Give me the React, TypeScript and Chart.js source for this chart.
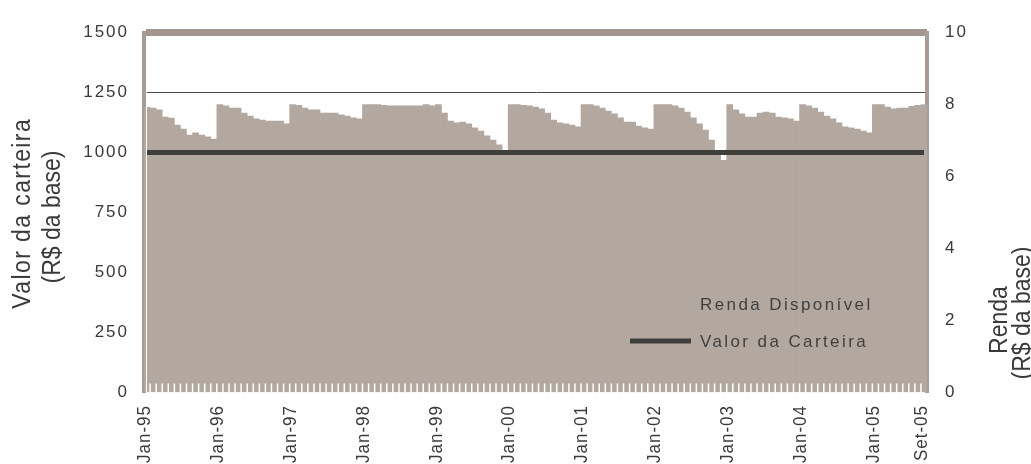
import React, { useEffect, useRef } from 'react';
import { Chart, registerables } from 'chart.js';

Chart.register(...registerables);

// ---------- data ----------
const YEARS = ['95', '96', '97', '98', '99', '00', '01', '02', '03', '04', '05'];
const MONTHS = ['Jan', 'Fev', 'Mar', 'Abr', 'Mai', 'Jun', 'Jul', 'Ago', 'Set', 'Out', 'Nov', 'Dez'];
const LAST_YEAR_MONTHS = 9; // Jan-05 .. Set-05

const CATEGORIES: string[] = [];
YEARS.forEach((y, yi) => {
  const n = yi === YEARS.length - 1 ? LAST_YEAR_MONTHS : 12;
  for (let m = 0; m < n; m++) CATEGORIES.push(`${MONTHS[m]}-${y}`);
});

// Renda disponível (R$ da base) – right axis
const RENDA_DISPONIVEL = [
  7.92, 7.90, 7.85, 7.65, 7.62, 7.43, 7.32, 7.15, 7.21, 7.15, 7.10, 7.04,
  8.00, 7.96, 7.90, 7.90, 7.76, 7.68, 7.60, 7.57, 7.54, 7.54, 7.54, 7.46,
  8.00, 7.98, 7.90, 7.85, 7.85, 7.76, 7.76, 7.76, 7.71, 7.68, 7.63, 7.60,
  8.00, 8.00, 8.00, 7.98, 7.96, 7.96, 7.96, 7.96, 7.96, 7.96, 8.00, 7.96,
  8.00, 7.76, 7.54, 7.49, 7.51, 7.46, 7.35, 7.26, 7.13, 7.01, 6.88, 6.70,
  8.00, 8.00, 7.98, 7.96, 7.93, 7.88, 7.76, 7.57, 7.49, 7.46, 7.43, 7.38,
  8.00, 8.00, 7.96, 7.90, 7.82, 7.74, 7.63, 7.51, 7.51, 7.40, 7.35, 7.32,
  8.00, 8.00, 8.00, 7.96, 7.90, 7.79, 7.63, 7.46, 7.29, 7.01, 6.70, 6.45,
  8.00, 7.85, 7.74, 7.65, 7.65, 7.76, 7.79, 7.76, 7.65, 7.63, 7.60, 7.54,
  8.00, 7.96, 7.90, 7.79, 7.68, 7.60, 7.49, 7.38, 7.35, 7.32, 7.26, 7.21,
  8.00, 8.00, 7.93, 7.88, 7.90, 7.90, 7.95, 7.98, 8.00,
];

// Valor da carteira (R$ da base) – left axis
const VALOR_CARTEIRA = [
  1000, 1000, 1000, 1000, 1000, 1000, 1000, 1000, 1000, 1000, 1000, 1000,
  1000, 1000, 1000, 1000, 1000, 1000, 1000, 1000, 1000, 1000, 1000, 1000,
  1000, 1000, 1000, 1000, 1000, 1000, 1000, 1000, 1000, 1000, 1000, 1000,
  1000, 1000, 1000, 1000, 1000, 1000, 1000, 1000, 1000, 1000, 1000, 1000,
  1000, 1000, 1000, 1000, 1000, 1000, 1000, 1000, 1000, 1000, 1000, 1000,
  1000, 1000, 1000, 1000, 1000, 1000, 1000, 1000, 1000, 1000, 1000, 1000,
  1000, 1000, 1000, 1000, 1000, 1000, 1000, 1000, 1000, 1000, 1000, 1000,
  1000, 1000, 1000, 1000, 1000, 1000, 1000, 1000, 1000, 1000, 1000, 1000,
  1000, 1000, 1000, 1000, 1000, 1000, 1000, 1000, 1000, 1000, 1000, 1000,
  1000, 1000, 1000, 1000, 1000, 1000, 1000, 1000, 1000, 1000, 1000, 1000,
  1000, 1000, 1000, 1000, 1000, 1000, 1000, 1000, 1000,
];

const LEFT_TICKS = [0, 250, 500, 750, 1000, 1250, 1500];
const RIGHT_TICKS = [0, 2, 4, 6, 8, 10];
const LEFT_TITLE = ['Valor da carteira', '(R$ da base)'];
const RIGHT_TITLE = ['Renda', '(R$ da base)'];
const SERIES_LABELS = ['Renda Disponível', 'Valor da Carteira'];

// ---------- styles ----------
const FONT = '"Liberation Sans", Arial, sans-serif';
const BAR_COLOR = '#b3a8a0';
const LINE_COLOR = '#3e3f3a';
const AXIS_COLOR = '#a79d96';
const BAND_COLOR = '#a3968e';
const TEXT_COLOR = '#3a3a3a';

const W = 1031;
const H = 464;

const showXLabel = (i: number) => CATEGORIES[i].startsWith('Jan') || i === CATEGORIES.length - 1;

export default function App() {
  const ref = useRef<HTMLCanvasElement | null>(null);

  useEffect(() => {
    document.body.style.margin = '0';
    const canvas = ref.current;
    if (!canvas) return;

    const spacingPlugin = {
      id: 'spacing',
      beforeDraw(chart: any) {
        chart.ctx.letterSpacing = '2px';
      },
    };

    const decorPlugin = {
      id: 'decor',
      afterDatasetsDraw(chart: any) {
        const ctx = chart.ctx;
        const xs = chart.scales.x;
        const y0 = chart.scales.y1.getPixelForValue(0);
        const n = CATEGORIES.length;
        ctx.save();
        ctx.strokeStyle = '#ffffff';
        ctx.lineWidth = 1.5;
        for (let i = 1; i < n; i++) {
          const x = (xs.getPixelForValue(i - 1) + xs.getPixelForValue(i)) / 2;
          ctx.beginPath();
          ctx.moveTo(x, y0 - 9);
          ctx.lineTo(x, y0 + 1);
          ctx.stroke();
        }
        // thin white separation between left axis and bars
        ctx.lineWidth = 1;
        ctx.beginPath();
        ctx.moveTo(xs.left + 2.5, chart.chartArea.top + 4);
        ctx.lineTo(xs.left + 2.5, y0);
        ctx.stroke();
        ctx.restore();
      },
      afterDraw(chart: any) {
        const ctx = chart.ctx;
        const xs = chart.scales.x;
        ctx.save();
        ctx.fillStyle = TEXT_COLOR;
        const vText = (t: string, x: number, y: number, spacing: number, align: CanvasTextAlign) => {
          ctx.save();
          ctx.letterSpacing = `${spacing}px`;
          ctx.translate(x, y);
          ctx.scale(1.12, 1);
          ctx.rotate(-Math.PI / 2);
          ctx.textAlign = align;
          ctx.textBaseline = 'middle';
          ctx.fillText(t, align === 'center' ? spacing / 2 : 0, 0);
          ctx.restore();
        };

        // x tick labels (at the start of each labelled month)
        ctx.font = `17px ${FONT}`;
        const step = (xs.right - xs.left) / CATEGORIES.length;
        CATEGORIES.forEach((label, i) => {
          if (!showXLabel(i)) return;
          const x = xs.getPixelForValue(i) - step / 2 + 1;
          vText(label, x, 405, 1, 'right');
        });

        ctx.font = `23px ${FONT}`;
        vText(LEFT_TITLE[0], 23, 214, 1.4, 'center');
        vText(LEFT_TITLE[1], 53, 217, 0, 'center');
        vText(RIGHT_TITLE[0], 1000, 320, 0, 'center');
        vText(RIGHT_TITLE[1], 1023, 313, 0, 'center');

        // legend
        const ds = chart.data.datasets;
        ctx.letterSpacing = '2.4px';
        ctx.font = `17px ${FONT}`;
        ctx.textAlign = 'left';
        ctx.textBaseline = 'middle';
        ctx.fillStyle = '#404040';
        ctx.fillText(ds[0].label, 700, 305);
        ctx.fillText(ds[1].label, 700, 342);
        ctx.strokeStyle = LINE_COLOR;
        ctx.lineWidth = 5;
        ctx.beginPath();
        ctx.moveTo(630, 341);
        ctx.lineTo(691, 341);
        ctx.stroke();
        ctx.restore();
      },
    };

    const chart = new Chart(canvas, {
      data: {
        labels: CATEGORIES,
        datasets: [
          {
            type: 'bar',
            label: SERIES_LABELS[0],
            data: RENDA_DISPONIVEL,
            yAxisID: 'y1',
            backgroundColor: BAR_COLOR,
            borderWidth: 0,
            barPercentage: 1,
            categoryPercentage: 1,
            order: 2,
          } as any,
          {
            type: 'line',
            label: SERIES_LABELS[1],
            data: VALOR_CARTEIRA,
            yAxisID: 'y',
            borderColor: LINE_COLOR,
            borderWidth: 5,
            pointRadius: 0,
            fill: false,
            order: 1,
          } as any,
        ],
      },
      options: {
        responsive: false,
        devicePixelRatio: 1,
        animation: false,
        layout: { padding: { top: 32.5, left: 0, right: 0, bottom: 0 } },
        plugins: {
          legend: { display: false },
          tooltip: { enabled: false },
        },
        scales: {
          x: {
            type: 'category',
            offset: true,
            grid: { display: false, drawTicks: false },
            border: { display: false },
            afterFit(scale: any) {
              scale.height = 71.5;
            },
            ticks: { display: false, autoSkip: false },
          },
          y: {
            position: 'left',
            min: 0,
            max: 1500,
            z: 1,
            afterFit(scale: any) {
              scale.width = 144;
            },
            afterBuildTicks(scale: any) {
              scale.ticks = LEFT_TICKS.map((v) => ({ value: v }));
            },
            border: { display: true, color: AXIS_COLOR, width: 4 },
            grid: {
              drawTicks: false,
              color: (c: any) =>
                c.tick && c.tick.value === 1500 ? BAND_COLOR : c.tick && c.tick.value === 1250 ? '#4a4a4a' : 'rgba(0,0,0,0)',
              lineWidth: (c: any) => (c.tick && c.tick.value === 1500 ? 7 : 1),
            },
            ticks: {
              padding: 15,
              color: TEXT_COLOR,
              font: { family: FONT, size: 17 },
              callback: (v: any) => String(v),
            },
          },
          y1: {
            position: 'right',
            min: 0,
            max: 10,
            z: 1,
            afterFit(scale: any) {
              scale.width = W - 927;
            },
            afterBuildTicks(scale: any) {
              scale.ticks = RIGHT_TICKS.map((v) => ({ value: v }));
            },
            border: { display: true, color: AXIS_COLOR, width: 4 },
            grid: { drawOnChartArea: false, drawTicks: false },
            ticks: {
              padding: 18,
              color: TEXT_COLOR,
              font: { family: FONT, size: 17 },
              callback: (v: any) => String(v),
            },
          },
        },
      },
      plugins: [spacingPlugin, decorPlugin],
    } as any);

    return () => chart.destroy();
  }, []);

  return <canvas ref={ref} width={W} height={H} style={{ display: 'block', width: W, height: H }} />;
}
